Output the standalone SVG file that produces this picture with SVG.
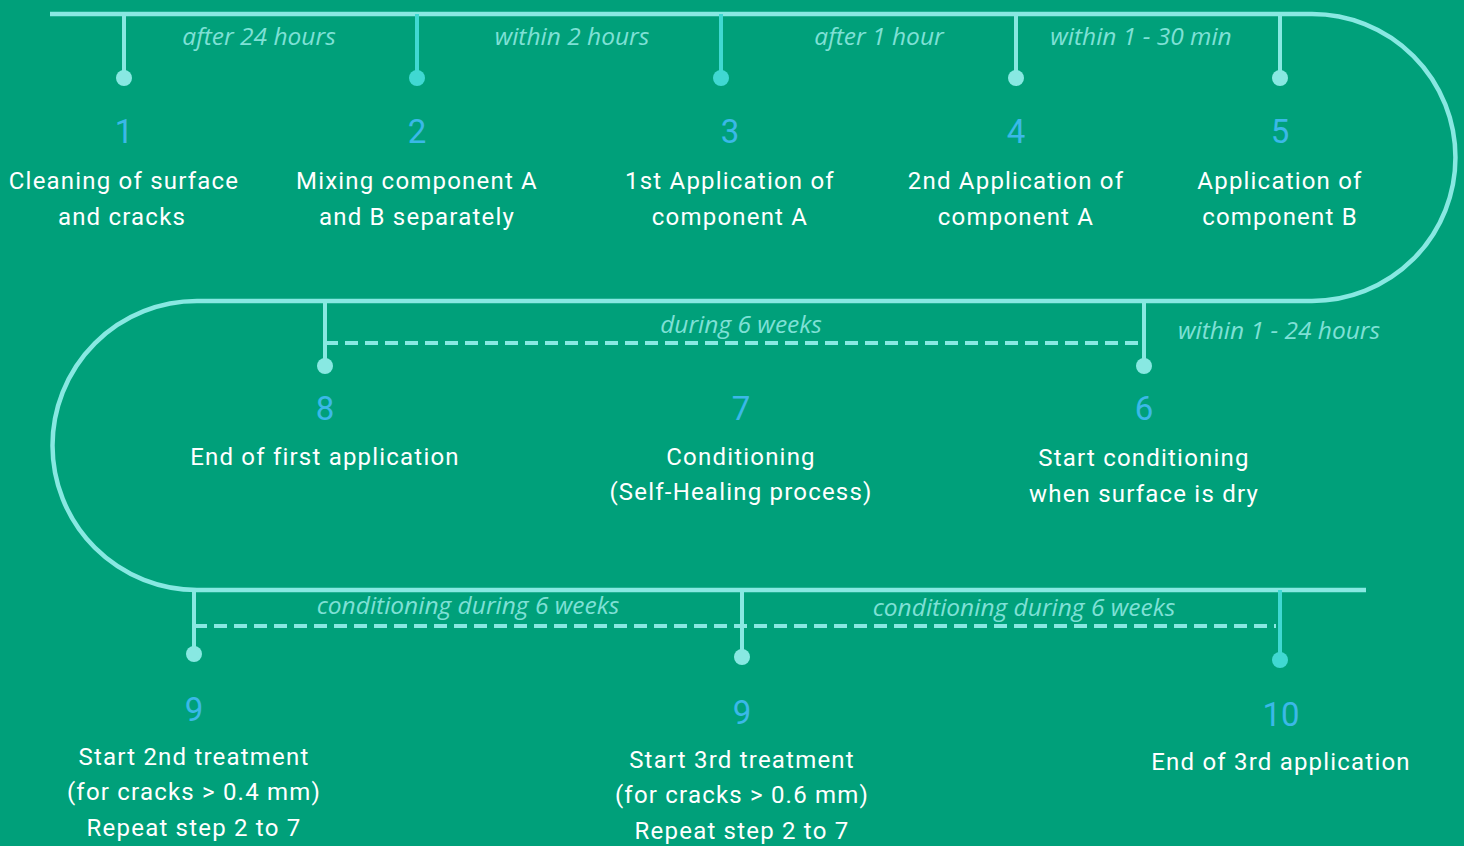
<svg xmlns="http://www.w3.org/2000/svg" width="1464" height="846" viewBox="0 0 1464 846">
<style>
.track{fill:none;stroke:#88E8E2;stroke-width:4.5}
.dash{fill:none;stroke:#88E8E2;stroke-width:4;stroke-dasharray:13,7}
.stem{stroke:#88E8E2;stroke-width:4}
.stem2{stroke:#40D8D2;stroke-width:4}
.dot{fill:#88E8E2}
.dot2{fill:#40D8D2}
.num{font-family:Roboto,"Liberation Sans",sans-serif;font-weight:400;font-size:33px;fill:#3BB8E8;text-anchor:middle}
.txt{font-family:Roboto,"Liberation Sans",sans-serif;font-size:24px;fill:#FFFFFF;text-anchor:middle;letter-spacing:1.2px}
.lbl{font-family:"Open Sans","Liberation Sans",sans-serif;font-style:italic;font-size:24.5px;fill:#7FE0D6;text-anchor:middle}
</style>
<rect width="1464" height="846" fill="#00A07A"/>
<g id="connectors">
<path class="track" d="M50 14 H1312 A143.5 143.5 0 0 1 1312 301 H197 A144.5 144.5 0 0 0 197 590 H1366"/>
<line class="dash" x1="325" y1="343" x2="1138" y2="343"/>
<line class="dash" x1="194" y1="626" x2="1276" y2="626"/>
<text class="lbl" x="259" y="45">after 24 hours</text>
<text class="lbl" x="572" y="45">within 2 hours</text>
<text class="lbl" x="879" y="45">after 1 hour</text>
<text class="lbl" x="1141" y="45">within 1 - 30 min</text>
<text class="lbl" x="741" y="333">during 6 weeks</text>
<text class="lbl" x="1279" y="339">within 1 - 24 hours</text>
<text class="lbl" x="468" y="614">conditioning during 6 weeks</text>
<text class="lbl" x="1024" y="616">conditioning during 6 weeks</text>
</g>
<g id="step1">
<line class="stem" x1="124" y1="14" x2="124" y2="78"/><circle class="dot" cx="124" cy="78" r="8"/>
<text class="num" x="124" y="143">1</text>
<text class="txt" x="124" y="189">Cleaning of surface</text>
<text class="txt" x="122" y="225">and cracks</text>
</g>
<g id="step2">
<line class="stem2" x1="417" y1="14" x2="417" y2="78"/><circle class="dot2" cx="417" cy="78" r="8"/>
<text class="num" x="417" y="143">2</text>
<text class="txt" x="417" y="189">Mixing component A</text>
<text class="txt" x="417" y="225">and B separately</text>
</g>
<g id="step3">
<line class="stem2" x1="721" y1="14" x2="721" y2="78"/><circle class="dot2" cx="721" cy="78" r="8"/>
<text class="num" x="730" y="143">3</text>
<text class="txt" x="730" y="189">1st Application of</text>
<text class="txt" x="730" y="225">component A</text>
</g>
<g id="step4">
<line class="stem" x1="1016" y1="14" x2="1016" y2="78"/><circle class="dot" cx="1016" cy="78" r="8"/>
<text class="num" x="1016" y="143">4</text>
<text class="txt" x="1016" y="189">2nd Application of</text>
<text class="txt" x="1016" y="225">component A</text>
</g>
<g id="step5">
<line class="stem" x1="1280" y1="14" x2="1280" y2="78"/><circle class="dot" cx="1280" cy="78" r="8"/>
<text class="num" x="1280" y="143">5</text>
<text class="txt" x="1280" y="189">Application of</text>
<text class="txt" x="1280" y="225">component B</text>
</g>
<g id="step6">
<line class="stem" x1="1144" y1="301" x2="1144" y2="366"/><circle class="dot" cx="1144" cy="366" r="8"/>
<text class="num" x="1144" y="420">6</text>
<text class="txt" x="1144" y="466">Start conditioning</text>
<text class="txt" x="1144" y="502">when surface is dry</text>
</g>
<g id="step7">
<text class="num" x="741" y="420">7</text>
<text class="txt" x="741" y="465">Conditioning</text>
<text class="txt" x="741" y="500">(Self-Healing process)</text>
</g>
<g id="step8">
<line class="stem" x1="325" y1="301" x2="325" y2="366"/><circle class="dot" cx="325" cy="366" r="8"/>
<text class="num" x="325" y="420">8</text>
<text class="txt" x="325" y="465">End of first application</text>
</g>
<g id="step9a">
<line class="stem" x1="194" y1="590" x2="194" y2="654"/><circle class="dot" cx="194" cy="654" r="8"/>
<text class="num" x="194" y="721">9</text>
<text class="txt" x="194" y="765">Start 2nd treatment</text>
<text class="txt" x="194" y="800">(for cracks &gt; 0.4 mm)</text>
<text class="txt" x="194" y="836">Repeat step 2 to 7</text>
</g>
<g id="step9b">
<line class="stem" x1="742" y1="590" x2="742" y2="657"/><circle class="dot" cx="742" cy="657" r="8"/>
<text class="num" x="742" y="724">9</text>
<text class="txt" x="742" y="768">Start 3rd treatment</text>
<text class="txt" x="742" y="803">(for cracks &gt; 0.6 mm)</text>
<text class="txt" x="742" y="839">Repeat step 2 to 7</text>
</g>
<g id="step10">
<line class="stem2" x1="1280" y1="590" x2="1280" y2="660"/><circle class="dot2" cx="1280" cy="660" r="8"/>
<text class="num" x="1281" y="726">10</text>
<text class="txt" x="1281" y="770">End of 3rd application</text>
</g>
</svg>
